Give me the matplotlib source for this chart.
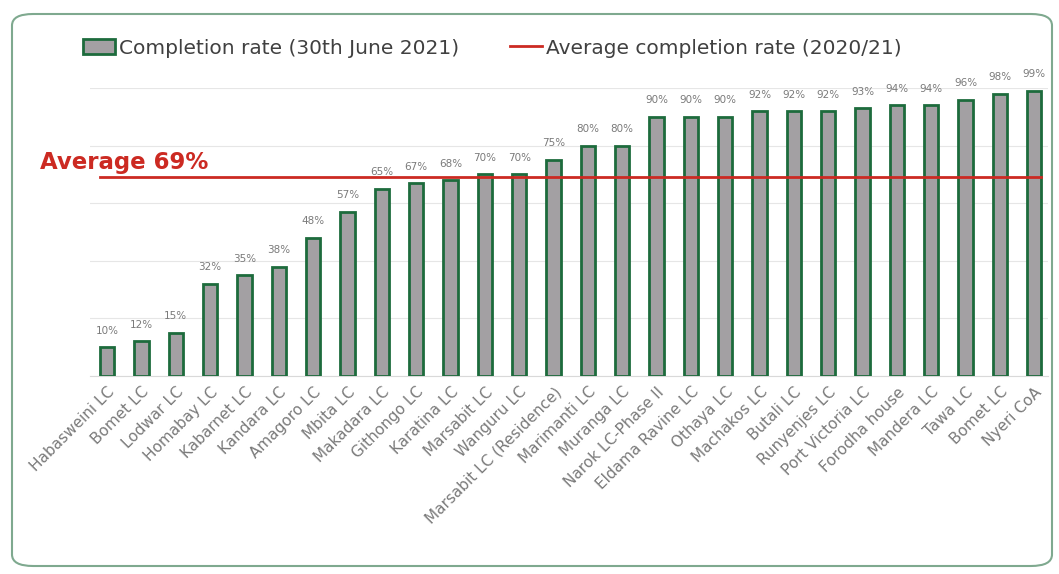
import matplotlib.pyplot as plt
from matplotlib.patches import FancyBboxPatch, Patch
from matplotlib.lines import Line2D

sites = [
    "Habasweini LC", "Bomet LC", "Lodwar LC", "Homabay LC", "Kabarnet LC",
    "Kandara LC", "Amagoro LC", "Mbita LC", "Makadara LC", "Githongo LC",
    "Karatina LC", "Marsabit LC", "Wanguru LC", "Marsabit LC (Residence)",
    "Marimanti LC", "Muranga LC", "Narok LC-Phase II", "Eldama Ravine LC",
    "Othaya LC", "Machakos LC", "Butali LC", "Runyenjes LC",
    "Port Victoria LC", "Forodha house", "Mandera LC", "Tawa LC",
    "Bomet LC", "Nyeri CoA",
]
completion = [10, 12, 15, 32, 35, 38, 48, 57, 65, 67, 68, 70, 70, 75,
              80, 80, 90, 90, 90, 92, 92, 92, 93, 94, 94, 96, 98, 99]
average = 69

bar_face = "#a3a0a3"
bar_edge = "#1d6b3c"
red = "#cc2a22"
text_grey = "#7a7a7a"

fig = plt.figure(figsize=(10.59, 5.74), dpi=100)
ax = fig.add_axes([90 / 1059, 1 - 376 / 574, (1048 - 90) / 1059, 288 / 574])

x = list(range(len(sites)))
ax.bar(x, completion, width=0.42, color=bar_face, edgecolor=bar_edge,
       linewidth=2, zorder=3)
for xi, v in zip(x, completion):
    ax.text(xi, v + 4, f"{v}%", ha="center", va="bottom", fontsize=7.5,
            color=text_grey)

ax.plot([-0.2, 27.2], [average, average], color=red, linewidth=2, zorder=4)

ax.set_xlim(-0.5, 27.4)
ax.set_ylim(0, 100)
ax.set_yticks([0, 20, 40, 60, 80, 100])
ax.set_yticklabels([])
ax.tick_params(axis="y", length=0)
ax.grid(axis="y", color="#e6e6e6", linewidth=0.8, zorder=0)
for s in ["top", "right", "left"]:
    ax.spines[s].set_visible(False)
ax.spines["bottom"].set_color("#d9d9d9")

ax.set_xticks(x)
ax.set_xticklabels(sites, rotation=45, ha="right", rotation_mode="anchor",
                   fontsize=11, color=text_grey)
ax.tick_params(axis="x", length=0, pad=6)

fig.text(40 / 1059, 1 - 162 / 574, "Average 69%", color=red, fontsize=16.5,
         fontweight="bold", va="center", ha="left")

handles = [
    Patch(facecolor=bar_face, edgecolor=bar_edge, linewidth=2),
    Line2D([0], [0], color=red, linewidth=2),
]
fig.legend(handles, ["Completion rate (30th June 2021)",
                     "Average completion rate (2020/21)"],
           loc="center left", bbox_to_anchor=(65 / 1059, 1 - 48 / 574),
           ncol=2, frameon=False, fontsize=14.5, handlelength=1.6,
           handletextpad=0.2, columnspacing=2.5, labelcolor="#404040")

border = FancyBboxPatch((12 / 1059, 8 / 574), 1040 / 1059, 552 / 574,
                        boxstyle="round,pad=0,rounding_size=0.02",
                        transform=fig.transFigure, fill=False,
                        edgecolor="#7fa98f", linewidth=1.5)
fig.patches.append(border)

fig.savefig("out.png", dpi=100)
